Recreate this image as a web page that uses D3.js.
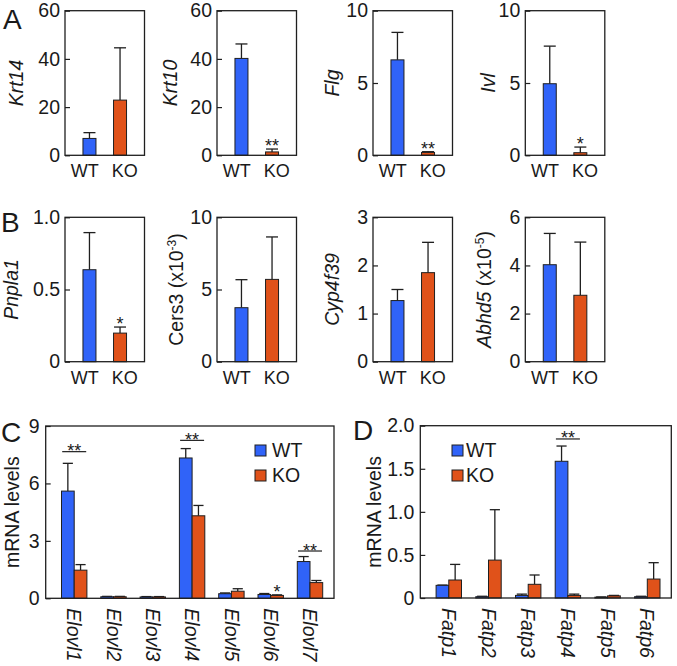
<!DOCTYPE html>
<html><head><meta charset="utf-8">
<script src="https://cdn.jsdelivr.net/npm/d3@7"></script>
<style>
body{margin:0;background:#fff}
text{font-family:"Liberation Sans",Arial,Helvetica,sans-serif;fill:#1a1a1a}
</style>
</head><body>
<svg id="chart" width="677" height="666"></svg>
<script>
// ---------------- DATA ----------------
const groups = ["WT", "KO"];

// Panel A
const genesA = ["Krt14", "Krt10", "Flg", "Ivl"];
const meanA = [[7.0, 22.9], [40.2, 1.4], [6.6, 0.2], [4.95, 0.18]];
const errTopA = [[9.4, 44.6], [46.2, 2.6], [8.5, 0.25], [7.55, 0.57]];
const sigA = [["", ""], ["", "**"], ["", "**"], ["", "*"]];
const maxA = [60, 60, 10, 10];
const ticksA = [[0, 20, 40, 60], [0, 20, 40, 60], [0, 5, 10], [0, 5, 10]];
const tickLabelsA = [["0", "20", "40", "60"], ["0", "20", "40", "60"], ["0", "5", "10"], ["0", "5", "10"]];

// Panel B
const genesB = ["Pnpla1", "Cers3", "Cyp4f39", "Abhd5"];
const meanB = [[0.637, 0.198], [3.74, 5.7], [1.27, 1.85], [4.03, 2.76]];
const errTopB = [[0.894, 0.24], [5.68, 8.64], [1.50, 2.48], [5.33, 4.97]];
const sigB = [["", "*"], ["", ""], ["", ""], ["", ""]];
const maxB = [1, 10, 3, 6];
const ticksB = [[0, 0.5, 1], [0, 5, 10], [0, 1, 2, 3], [0, 2, 4, 6]];
const tickLabelsB = [["0", "0.5", "1.0"], ["0", "5", "10"], ["0", "1", "2", "3"], ["0", "2", "4", "6"]];

// Panel C
const catsC = ["Elovl1", "Elovl2", "Elovl3", "Elovl4", "Elovl5", "Elovl6", "Elovl7"];
const wtC = [5.6, 0.08, 0.07, 7.33, 0.24, 0.2, 1.92];
const wtErrC = [7.05, 0.1, 0.09, 7.82, 0.28, 0.25, 2.18];
const koC = [1.47, 0.08, 0.07, 4.31, 0.37, 0.15, 0.82];
const koErrC = [1.76, 0.1, 0.09, 4.85, 0.5, 0.18, 0.93];
const ticksC = [0, 3, 6, 9];
const tickLabelsC = ["0", "3", "6", "9"];
const bracketsC = [{cat: "Elovl1", text: "**", level: 7.66}, {cat: "Elovl4", text: "**", level: 8.25}, {cat: "Elovl7", text: "**", level: 2.47}];
const starsC = [{cat: "Elovl6", group: "KO", text: "*"}];

// Panel D
const catsD = ["Fatp1", "Fatp2", "Fatp3", "Fatp4", "Fatp5", "Fatp6"];
const wtD = [0.147, 0.015, 0.03, 1.587, 0.01, 0.015];
const wtErrD = [0.15, 0.02, 0.045, 1.764, 0.012, 0.02];
const koD = [0.209, 0.44, 0.159, 0.03, 0.025, 0.22];
const koErrD = [0.39, 1.025, 0.267, 0.045, 0.03, 0.41];
const ticksD = [0, 0.5, 1, 1.5, 2];
const tickLabelsD = ["0", "0.5", "1.0", "1.5", "2.0"];
const bracketsD = [{cat: "Fatp4", text: "**", level: 1.846}];
const starsD = [];

// ---------------- STYLE / LAYOUT ----------------
const BLUE = "#3063F8", ORANGE = "#E0521A", INK = "#1f1f1f";
const color = {WT: BLUE, KO: ORANGE};
const svg = d3.select("#chart");

const smallLeft = [65, 217, 373, 525.3];
const smallW = 79.5;
const rowA = {top: 10.7, bottom: 155.3};
const rowB = {top: 217.3, bottom: 361.7};
const labelXA = [23, 177, 339, 495];
const labelXB = [18, 183, 339, 491];

function axisLeft(g, left, y, vals, labs, pad) {
  const ax = d3.axisLeft(y).tickValues(vals).tickFormat((d, i) => labs[i])
    .tickSizeInner(-5).tickSizeOuter(0).tickPadding(pad);
  const a = g.append("g").attr("transform", `translate(${left},0)`).call(ax);
  a.select(".domain").remove();
  a.selectAll(".tick line").attr("stroke", INK).attr("stroke-width", 1.2);
  a.selectAll(".tick text").style("font-size", "19.5px").attr("fill", INK)
    .style("font-family", '"Liberation Sans",Arial,sans-serif');
}

function errBar(g, cx, yFrom, yTo, cap) {
  g.append("line").attr("x1", cx).attr("x2", cx).attr("y1", yFrom).attr("y2", yTo)
    .attr("stroke", INK).attr("stroke-width", 1.3);
  g.append("line").attr("x1", cx - cap / 2).attr("x2", cx + cap / 2).attr("y1", yTo).attr("y2", yTo)
    .attr("stroke", INK).attr("stroke-width", 1.3);
}

function smallPanel(left, row, max, vals, labs, mean, errTop, sig, labelX, labelFn) {
  const g = svg.append("g");
  const x = d3.scalePoint().domain(groups).range([left, left + smallW]).padding(0.8);
  const xl = d3.scalePoint().domain(groups).range([left, left + smallW]).padding(0.49);
  const y = d3.scaleLinear().domain([0, max]).range([row.bottom, row.top]);
  const bw = 13;
  groups.forEach((grp, i) => {
    const cx = x(grp);
    errBar(g, cx, y(mean[i]), y(errTop[i]), bw - 1);
    g.append("rect").attr("x", cx - bw / 2).attr("y", y(mean[i]))
      .attr("width", bw).attr("height", y(0) - y(mean[i]))
      .attr("fill", color[grp]).attr("stroke", INK).attr("stroke-width", 1);
    if (sig[i]) {
      g.append("text").attr("x", cx).attr("y", y(errTop[i]) + 3)
        .attr("text-anchor", "middle").style("font-size", "18px").text(sig[i]);
    }
    g.append("text").attr("x", xl(grp)).attr("y", row.bottom + 22)
      .attr("text-anchor", "middle").style("font-size", "18px").text(grp);
  });
  g.append("rect").attr("x", left).attr("y", row.top).attr("width", smallW)
    .attr("height", row.bottom - row.top).attr("fill", "none")
    .attr("stroke", INK).attr("stroke-width", 1.3);
  axisLeft(g, left, y, vals, labs, 5);
  const t = g.append("text")
    .attr("transform", `translate(${labelX},${(row.top + row.bottom) / 2}) rotate(-90)`)
    .attr("text-anchor", "middle").style("font-size", "19.5px");
  labelFn(t);
}

function italicLabel(name) {
  return t => t.style("font-style", "italic").text(name);
}

genesA.forEach((gene, i) => {
  smallPanel(smallLeft[i], rowA, maxA[i], ticksA[i], tickLabelsA[i], meanA[i], errTopA[i], sigA[i], labelXA[i], italicLabel(gene));
});

const labelFnsB = [
  italicLabel(genesB[0]),
  t => {
    t.append("tspan").text(genesB[1] + " (x10");
    t.append("tspan").attr("dy", -7).style("font-size", "12px").text("-3");
    t.append("tspan").attr("dy", 7).text(")");
  },
  italicLabel(genesB[2]),
  t => {
    t.append("tspan").style("font-style", "italic").text(genesB[3]);
    t.append("tspan").text(" (x10");
    t.append("tspan").attr("dy", -7).style("font-size", "12px").text("-5");
    t.append("tspan").attr("dy", 7).text(")");
  }
];
genesB.forEach((gene, i) => {
  smallPanel(smallLeft[i], rowB, maxB[i], ticksB[i], tickLabelsB[i], meanB[i], errTopB[i], sigB[i], labelXB[i], labelFnsB[i]);
});

// ---------- Big panels ----------
function bigPanel(frame, cats, wt, wtErr, ko, koErr, vals, labs, max, brackets, stars, legendX, labelX) {
  const g = svg.append("g");
  const x = d3.scalePoint().domain(cats).range([frame.left + 28.5, frame.right - 24]);
  const y = d3.scaleLinear().domain([0, max]).range([frame.bottom, frame.top]);
  const bw = 12.7;
  const series = {WT: [wt, wtErr], KO: [ko, koErr]};
  const off = {WT: -bw / 2, KO: bw / 2};
  cats.forEach((c, i) => {
    groups.forEach(grp => {
      const cx = x(c) + off[grp];
      const v = series[grp][0][i], e = series[grp][1][i];
      errBar(g, cx, y(v), y(e), bw * 0.8);
      g.append("rect").attr("x", cx - bw / 2).attr("y", y(v))
        .attr("width", bw).attr("height", y(0) - y(v))
        .attr("fill", color[grp]).attr("stroke", INK).attr("stroke-width", 1);
    });
    g.append("text")
      .attr("transform", `translate(${x(c)},${frame.bottom + 10}) rotate(90)`)
      .attr("dy", "0.35em").style("font-size", "19.5px").style("font-style", "italic").text(c);
  });
  brackets.forEach(b => {
    const ly = y(b.level);
    g.append("line").attr("x1", x(b.cat) - 12).attr("x2", x(b.cat) + 12)
      .attr("y1", ly).attr("y2", ly).attr("stroke", INK).attr("stroke-width", 1.2);
    g.append("text").attr("x", x(b.cat)).attr("y", ly + 5.5).attr("text-anchor", "middle")
      .style("font-size", "18px").text(b.text);
  });
  stars.forEach(s => {
    const i = cats.indexOf(s.cat);
    g.append("text").attr("x", x(s.cat) + off[s.group]).attr("y", y(series[s.group][1][i]) + 3)
      .attr("text-anchor", "middle").style("font-size", "18px").text(s.text);
  });
  g.append("rect").attr("x", frame.left).attr("y", frame.top)
    .attr("width", frame.right - frame.left).attr("height", frame.bottom - frame.top)
    .attr("fill", "none").attr("stroke", INK).attr("stroke-width", 1.3);
  axisLeft(g, frame.left, y, vals, labs, 6);
  g.append("text")
    .attr("transform", `translate(${labelX},${(frame.top + frame.bottom) / 2}) rotate(-90)`)
    .attr("text-anchor", "middle").style("font-size", "19.5px").text("mRNA levels");
  groups.forEach((grp, k) => {
    g.append("rect").attr("x", legendX.box).attr("y", 445 + k * 25).attr("width", 11).attr("height", 11)
      .attr("fill", color[grp]).attr("stroke", INK).attr("stroke-width", 1);
    g.append("text").attr("x", legendX.text).attr("y", 457 + k * 25).style("font-size", "19.5px").text(grp);
  });
}

bigPanel({left: 45.7, right: 334, top: 426, bottom: 598.3}, catsC, wtC, wtErrC, koC, koErrC,
  ticksC, tickLabelsC, 9, bracketsC, starsC, {box: 255, text: 272}, 19);
bigPanel({left: 420.3, right: 671.3, top: 425.7, bottom: 598}, catsD, wtD, wtErrD, koD, koErrD,
  ticksD, tickLabelsD, 2, bracketsD, starsD, {box: 452, text: 466}, 380.5);

// panel letters
const letters = [["A", 3, 28.5], ["B", 1, 231.5], ["C", 1, 441.5], ["D", 353, 440]];
letters.forEach(([l, lx, ly]) => {
  svg.append("text").attr("x", lx).attr("y", ly).style("font-size", "28px").text(l);
});
</script>
</body></html>
